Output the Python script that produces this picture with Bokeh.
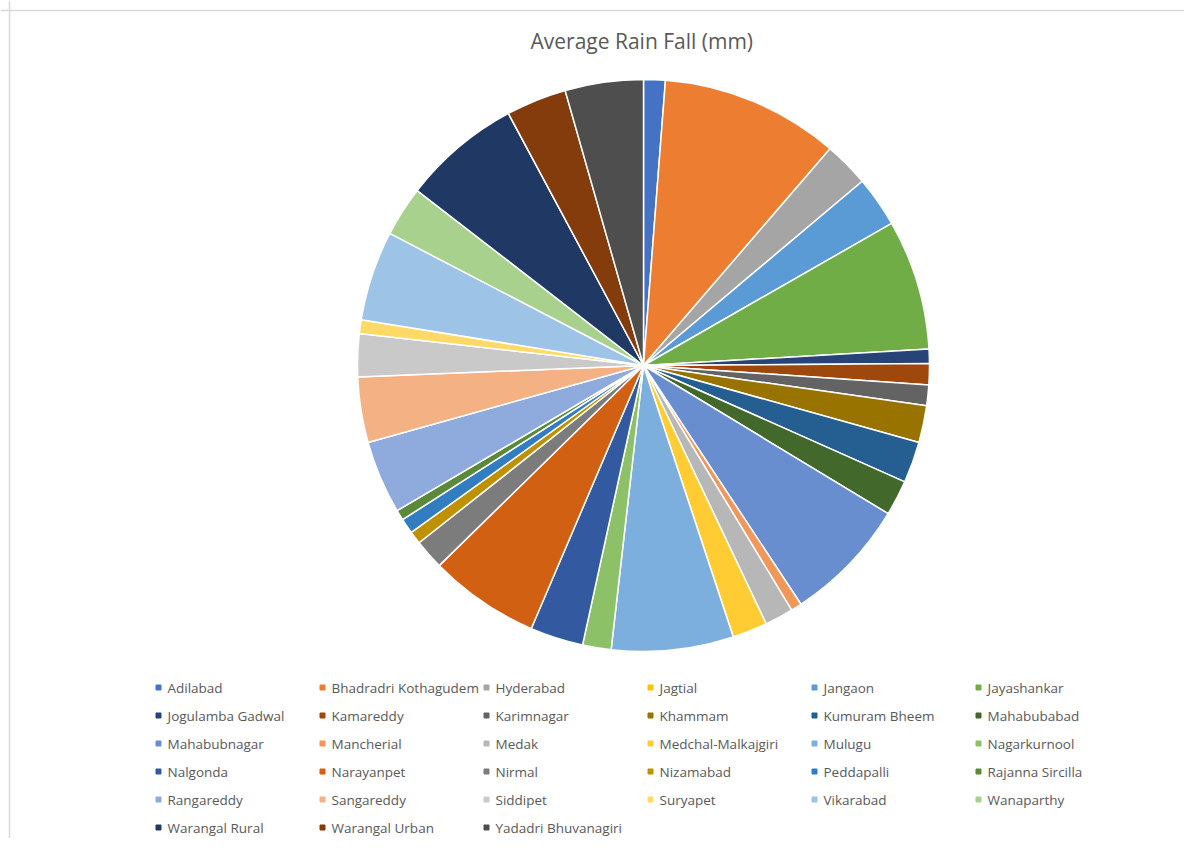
import numpy as np
from bokeh.plotting import figure
from bokeh.models import Range1d, ColumnDataSource, Span
from bokeh.core.properties import value
from bokeh.embed import file_html
from bokeh.resources import INLINE

# ---------------- data ----------------
title_text = "Average Rain Fall  (mm)"

districts = [
    "Adilabad", "Bhadradri Kothagudem", "Hyderabad", "Jagtial", "Jangaon", "Jayashankar",
    "Jogulamba Gadwal", "Kamareddy", "Karimnagar", "Khammam", "Kumuram Bheem", "Mahabubabad",
    "Mahabubnagar", "Mancherial", "Medak", "Medchal-Malkajgiri", "Mulugu", "Nagarkurnool",
    "Nalgonda", "Narayanpet", "Nirmal", "Nizamabad", "Peddapalli", "Rajanna Sircilla",
    "Rangareddy", "Sangareddy", "Siddipet", "Suryapet", "Vikarabad", "Wanaparthy",
    "Warangal Rural", "Warangal Urban", "Yadadri Bhuvanagiri",
]

rainfall_mm = [
    44, 363, 92, 0, 103, 265,
    29, 43, 42, 75, 84, 72,
    254, 22, 58, 71, 248, 58,
    108, 225, 61, 26, 31, 21,
    149, 133, 87, 28, 183, 102,
    241, 123, 159,
]

colors = [
    "#4472C4", "#ED7D31", "#A5A5A5", "#FFC000", "#5B9BD5", "#70AD47",
    "#264478", "#9E480E", "#636363", "#997300", "#255E91", "#43682B",
    "#698ED0", "#F1975A", "#B7B7B7", "#FFCD33", "#7CAFDD", "#8CC168",
    "#335AA1", "#D26012", "#7C7C7C", "#BF9000", "#327DC2", "#5A8A39",
    "#8FAADC", "#F4B183", "#C9C9C9", "#FFD966", "#9DC3E6", "#A9D18E",
    "#203864", "#843C0C", "#4E4E4E",
]

# ---------------- figure (data coords == screenshot pixels, y flipped) ----------------
PAGE_H = 854
def sy(y):
    return PAGE_H - y

p = figure(width=1184, height=838,
           x_range=Range1d(0, 1184), y_range=Range1d(16, 854),
           output_backend="svg", toolbar_location=None,
           x_axis_location=None, y_axis_location=None,
           min_border=0)
p.grid.visible = False
p.outline_line_color = None
p.background_fill_color = "white"
p.border_fill_color = "white"

# chart-area border (top & left, like the Excel chart frame)
p.add_layout(Span(location=sy(10), dimension="width", line_color="#d9d9d9", line_width=1.5))
p.add_layout(Span(location=9, dimension="height", line_color="#d9d9d9", line_width=1.5))

# ---------------- pie ----------------
vals = np.array(rainfall_mm, dtype=float)
frac = vals / vals.sum()
cum = np.concatenate([[0.0], np.cumsum(frac)])
start = np.pi / 2 - cum[:-1] * 2 * np.pi
end = np.pi / 2 - cum[1:] * 2 * np.pi

mask = vals > 0
pie_src = ColumnDataSource(dict(
    name=[d for d, m in zip(districts, mask) if m],
    value=vals[mask],
    start=start[mask],
    end=end[mask],
    color=[c for c, m in zip(colors, mask) if m],
))
cx, cy, R = 643, sy(365), 286
p.wedge(x=cx, y=cy, radius=R, start_angle="start", end_angle="end",
        direction="clock", fill_color="color", line_color="white",
        line_width=1.5, source=pie_src)

# ---------------- title ----------------
p.text(x=[644], y=[sy(40)], text=[title_text], text_align="center",
       text_baseline="middle", text_color="#595959", text_font_size="21px",
       text_font=value("Open Sans"))

# ---------------- legend ----------------
n = len(districts)
cols = np.arange(n) % 6
rows = np.arange(n) // 6
mx = 158 + cols * 164
my = np.array([sy(687 + r * 28) for r in rows])
leg_src = ColumnDataSource(dict(x=mx, y=my, tx=mx + 9, name=districts, color=colors))
p.scatter(x="x", y="y", marker="square", size=5, fill_color="color",
          line_color="color", source=leg_src)
p.text(x="tx", y="y", text="name", text_align="left", text_baseline="middle",
       text_color="#595959", text_font_size="13.5px", text_font=value("Open Sans"),
       source=leg_src)

open("out.html", "w").write(file_html(p, INLINE))
